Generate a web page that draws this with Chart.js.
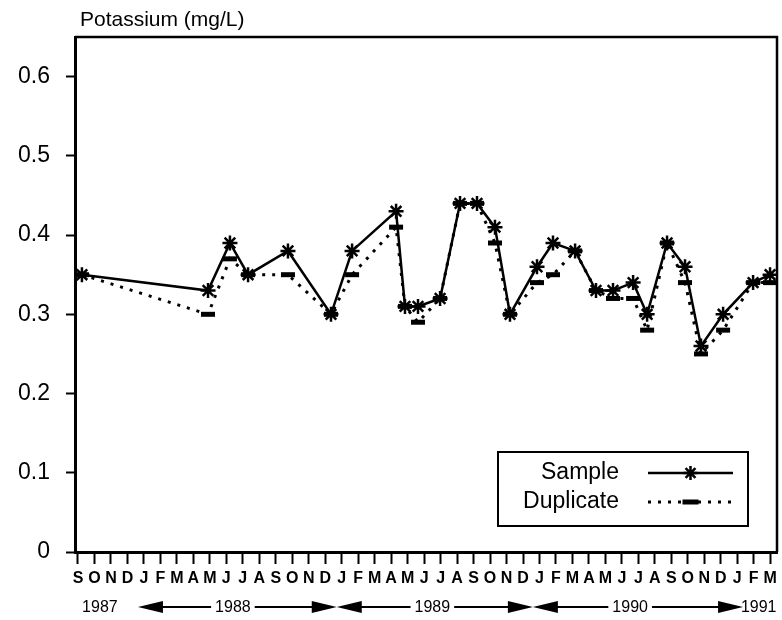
<!DOCTYPE html>
<html>
<head>
<meta charset="utf-8">
<title>Potassium (mg/L)</title>
<script src="https://cdn.jsdelivr.net/npm/chart.js@4/dist/chart.umd.min.js"></script>
<style>
  body { margin: 0; background: #fff; }
  #wrap { width: 782px; height: 620px; }
</style>
</head>
<body>
<div id="wrap"><canvas id="chart" width="782" height="620"></canvas></div>
<script>
// months from September 1987 to March 1991, one label per month
const monthLabels = [
  "S", "O", "N", "D",
  "J", "F", "M", "A", "M", "J", "J", "A", "S", "O", "N", "D",
  "J", "F", "M", "A", "M", "J", "J", "A", "S", "O", "N", "D",
  "J", "F", "M", "A", "M", "J", "J", "A", "S", "O", "N", "D",
  "J", "F", "M",
];

// sampling time, in months after the start of September 1987
const sampleTimes = [
  0.24, 7.89, 9.22, 10.32, 12.74, 15.35, 16.63, 19.3, 19.84, 20.63,
  21.97, 23.18, 24.21, 25.3, 26.21, 27.85, 28.82, 30.16, 31.43, 32.46,
  33.68, 34.53, 35.74, 36.83, 37.8, 39.14, 40.96, 41.99,
];

const sampleValues = [
  0.35, 0.33, 0.39, 0.35, 0.38, 0.3, 0.38, 0.43, 0.31, 0.31,
  0.32, 0.44, 0.44, 0.41, 0.3, 0.36, 0.39, 0.38, 0.33, 0.33,
  0.34, 0.3, 0.39, 0.36, 0.26, 0.3, 0.34, 0.35,
];

const duplicateValues = [
  0.35, 0.3, 0.37, 0.35, 0.35, 0.3, 0.35, 0.41, 0.31, 0.29,
  0.32, 0.44, 0.44, 0.39, 0.3, 0.34, 0.35, 0.38, 0.33, 0.32,
  0.32, 0.28, 0.39, 0.34, 0.25, 0.28, 0.34, 0.34,
];

const yTicks = [0, 0.1, 0.2, 0.3, 0.4, 0.5, 0.6];
const yTickLabels = ["0", "0.1", "0.2", "0.3", "0.4", "0.5", "0.6"];

// year row under the month labels
const yearLabels = ["1987", "1988", "1989", "1990", "1991"];
const yearCenters = [1.33, 9.4, 21.5, 33.5, 41.3];
// arrows between year boundaries: [start, end, index of year label]
const yearArrows = [
  [3.64, 15.7, 1],
  [15.7, 27.6, 2],
  [27.6, 40.35, 3],
];

const FONT = "'Liberation Sans', Arial, Helvetica, sans-serif";

const toPoints = (times, values) =>
  times.map((t, i) => ({ x: t, y: values[i] }));

const framePlugin = {
  id: "frame",
  afterDraw(chart) {
    const { ctx, chartArea } = chart;
    ctx.save();
    ctx.strokeStyle = "#000";
    ctx.lineWidth = 2.5;
    ctx.beginPath();
    ctx.moveTo(chartArea.left, chartArea.top);
    ctx.lineTo(chartArea.right, chartArea.top);
    ctx.lineTo(chartArea.right, chartArea.bottom);
    ctx.stroke();

    // title above the frame
    ctx.fillStyle = "#000";
    ctx.font = "21px " + FONT;
    ctx.textAlign = "left";
    ctx.textBaseline = "alphabetic";
    ctx.fillText("Potassium (mg/L)", chartArea.left + 5, 26);
    ctx.restore();
  },
};

function arrowHead(ctx, tipX, y, dir) {
  const len = 25;
  const half = 6;
  ctx.beginPath();
  ctx.moveTo(tipX, y);
  ctx.lineTo(tipX - dir * len, y - half);
  ctx.lineTo(tipX - dir * len, y + half);
  ctx.closePath();
  ctx.fill();
}

const yearPlugin = {
  id: "yearRow",
  afterDraw(chart) {
    const { ctx } = chart;
    const x = chart.scales.x;
    const y = 607;
    ctx.save();
    ctx.fillStyle = "#000";
    ctx.strokeStyle = "#000";
    ctx.lineWidth = 2;
    ctx.font = "16px " + FONT;
    ctx.textAlign = "center";
    ctx.textBaseline = "middle";

    yearLabels.forEach((label, i) => {
      ctx.fillText(label, x.getPixelForValue(yearCenters[i]), y + 1);
    });

    yearArrows.forEach(([start, end, labelIndex]) => {
      const x0 = x.getPixelForValue(start);
      const x1 = x.getPixelForValue(end);
      const cx = x.getPixelForValue(yearCenters[labelIndex]);
      const halfText = ctx.measureText(yearLabels[labelIndex]).width / 2 + 4;
      ctx.beginPath();
      ctx.moveTo(x0 + 10, y);
      ctx.lineTo(cx - halfText, y);
      ctx.moveTo(cx + halfText, y);
      ctx.lineTo(x1 - 10, y);
      ctx.stroke();
      arrowHead(ctx, x0, y, -1);
      arrowHead(ctx, x1, y, 1);
    });
    ctx.restore();
  },
};

const legendPlugin = {
  id: "boxLegend",
  afterDraw(chart) {
    const { ctx } = chart;
    const left = 498;
    const top = 452;
    const width = 250;
    const height = 74;
    ctx.save();
    ctx.fillStyle = "#fff";
    ctx.fillRect(left, top, width, height);
    ctx.strokeStyle = "#000";
    ctx.lineWidth = 2;
    ctx.strokeRect(left, top, width, height);

    ctx.fillStyle = "#000";
    ctx.font = "23px " + FONT;
    ctx.textAlign = "right";
    ctx.textBaseline = "alphabetic";
    ctx.fillText("Sample", 619, 479);
    ctx.fillText("Duplicate", 619, 508);

    const lineX0 = 648;
    const lineX1 = 733;
    const mid = (lineX0 + lineX1) / 2;

    // sample: solid line with star
    ctx.lineWidth = 2.5;
    ctx.beginPath();
    ctx.moveTo(lineX0, 473);
    ctx.lineTo(lineX1, 473);
    ctx.stroke();
    ctx.lineWidth = 2.5;
    ctx.beginPath();
    for (let k = 0; k < 4; k++) {
      const a = (k * Math.PI) / 4;
      ctx.moveTo(mid - 7 * Math.cos(a), 473 - 7 * Math.sin(a));
      ctx.lineTo(mid + 7 * Math.cos(a), 473 + 7 * Math.sin(a));
    }
    ctx.stroke();

    // duplicate: dotted line with dash
    ctx.lineWidth = 3;
    ctx.setLineDash([3, 7]);
    ctx.beginPath();
    ctx.moveTo(lineX0, 502);
    ctx.lineTo(lineX1, 502);
    ctx.stroke();
    ctx.setLineDash([]);
    ctx.fillRect(mid - 8, 499.5, 16, 5);
    ctx.restore();
  },
};

new Chart(document.getElementById("chart"), {
  type: "line",
  data: {
    datasets: [
      {
        label: "Duplicate",
        data: toPoints(sampleTimes, duplicateValues),
        borderColor: "#000",
        backgroundColor: "#000",
        borderWidth: 3,
        borderDash: [3, 7],
        pointStyle: "line",
        pointRadius: 7,
        pointBorderWidth: 5,
        pointHoverRadius: 7,
        tension: 0,
      },
      {
        label: "Sample",
        data: toPoints(sampleTimes, sampleValues),
        borderColor: "#000",
        backgroundColor: "#000",
        borderWidth: 2.5,
        pointStyle: "star",
        pointRadius: 7.5,
        pointBorderWidth: 2.5,
        pointHoverRadius: 7.5,
        tension: 0,
      },
    ],
  },
  options: {
    responsive: false,
    animation: false,
    devicePixelRatio: 1,
    clip: false,
    layout: {
      autoPadding: false,
      padding: { top: 37, right: 5, left: 0, bottom: 0 },
    },
    plugins: {
      legend: { display: false },
      title: { display: false },
      tooltip: { enabled: false },
    },
    scales: {
      x: {
        type: "linear",
        min: -0.18,
        max: 42.41,
        afterBuildTicks: (scale) => {
          scale.ticks = monthLabels.map((_, i) => ({ value: i }));
        },
        afterFit: (scale) => {
          scale.height = 68;
          scale.paddingLeft = 0;
          scale.paddingRight = 0;
        },
        grid: {
          drawOnChartArea: false,
          drawTicks: true,
          tickLength: 12,
          tickWidth: 2,
          tickColor: "#000",
        },
        border: { display: true, color: "#000", width: 3 },
        ticks: {
          autoSkip: false,
          maxRotation: 0,
          padding: 5,
          color: "#000",
          font: { family: FONT, size: 16, weight: "bold" },
          callback: (value, index) => monthLabels[index],
        },
      },
      y: {
        min: 0,
        max: 0.65,
        afterBuildTicks: (scale) => {
          scale.ticks = yTicks.map((v) => ({ value: v }));
        },
        afterFit: (scale) => {
          scale.width = 75;
          scale.paddingTop = 0;
          scale.paddingBottom = 0;
        },
        grid: {
          drawOnChartArea: false,
          drawTicks: true,
          tickLength: 9,
          tickWidth: 2,
          tickColor: "#000",
        },
        border: { display: true, color: "#000", width: 3 },
        ticks: {
          padding: 16,
          color: "#000",
          font: { family: FONT, size: 23 },
          callback: (value, index) => yTickLabels[index],
        },
      },
    },
  },
  plugins: [framePlugin, yearPlugin, legendPlugin],
});
</script>
</body>
</html>
